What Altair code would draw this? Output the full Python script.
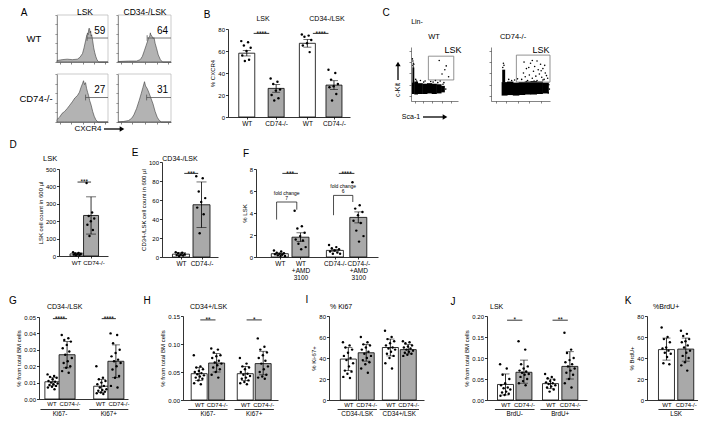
import json
import altair as alt
import pandas as pd

FONT = "Liberation Sans"
W, H = 690, 409
M = 8
GRAY = "#a9a9a9"


def P(v):
    return v - M


# ======================= DATA =======================
# A: CXCR4 histograms (x: % of axis, y: % of axis height)
A_x_lsk_wt = [0, 10, 20, 30, 40, 45, 50, 53, 56, 58, 60, 61, 62, 63, 64, 65, 66, 67, 68, 70, 72, 74, 76, 78, 80, 82, 100]
A_y_lsk_wt = [3, 5, 6, 5, 6, 10, 18, 30, 45, 55, 62, 58, 68, 72, 70, 62, 66, 55, 58, 45, 30, 20, 12, 6, 2, 0, 0]
A_x_lsk_ko = [0, 5, 10, 15, 20, 25, 30, 35, 40, 44, 47, 50, 52, 54, 56, 58, 60, 62, 64, 67, 70, 73, 76, 80, 100]
A_y_lsk_ko = [5, 10, 18, 22, 28, 35, 42, 50, 55, 62, 72, 80, 86, 78, 82, 70, 62, 55, 45, 35, 22, 12, 5, 0, 0]
A_x_cd34_wt = [0, 20, 35, 42, 46, 50, 53, 56, 58, 60, 61, 62, 64, 66, 68, 70, 73, 76, 80, 84, 100]
A_y_cd34_wt = [1, 2, 2, 5, 12, 25, 35, 45, 52, 55, 62, 58, 55, 50, 52, 40, 28, 15, 5, 0, 0]
A_x_cd34_ko = [0, 10, 20, 26, 30, 35, 40, 44, 47, 50, 52, 55, 58, 62, 66, 70, 74, 78, 82, 100]
A_y_cd34_ko = [0, 1, 3, 8, 15, 28, 45, 60, 72, 84, 75, 70, 62, 50, 38, 22, 10, 3, 0, 0]
A_gate_start = [59, 56, 55, 54]
A_gate_pct = ["59", "27", "64", "31"]

# C: Lin- flow plots (Sca-1 vs c-Kit, % of axis): dense regions and sparse events
C_wt_rect_x0 = [2, 7, 14, 24, 34, 44, 54, 64, 3]
C_wt_rect_x1 = [8, 15, 25, 35, 45, 55, 65, 72, 7]
C_wt_rect_y0 = [13, 12, 13, 13, 14, 13, 14, 16, 33]
C_wt_rect_y1 = [34, 36, 33, 32, 33, 32, 31, 28, 62]
C_wt_dot_x = [4, 5, 4, 6, 10, 20, 30, 42, 52, 62, 70, 60, 75, 66, 80, 72, 12, 27, 47, 57, 68, 74, 3, 5]
C_wt_dot_y = [66, 70, 74, 68, 40, 38, 37, 36, 38, 37, 34, 75, 65, 50, 45, 58, 37, 35, 35, 34, 31, 22, 78, 63]
C_ko_rect_x0 = [18, 27, 37, 47, 57, 67, 77, 87, 19]
C_ko_rect_x1 = [28, 38, 48, 58, 68, 78, 88, 98, 24]
C_ko_rect_y0 = [10, 11, 10, 11, 12, 12, 13, 14, 34]
C_ko_rect_y1 = [35, 36, 34, 35, 36, 37, 36, 34, 58]
C_ko_dot_x = [52, 55, 58, 60, 62, 65, 67, 70, 72, 74, 76, 78, 80, 82, 84, 86, 88, 90, 92, 94, 96, 56, 64, 70, 78,
              85, 91, 60, 73, 88, 30, 35, 40, 45, 20, 22, 21, 98, 99, 97]
C_ko_dot_y = [40, 52, 45, 60, 38, 48, 70, 42, 55, 64, 46, 38, 58, 50, 68, 44, 60, 40, 52, 47, 42, 72, 62, 75, 74,
              56, 66, 36, 37, 39, 40, 38, 39, 41, 62, 66, 70, 30, 22, 15]

# B: % CXCR4 (mean +/- SEM)
B_labels = ["WT", "CD74-/-", "WT", "CD74-/-"]
B_geno = ["WT", "CD74-/-", "WT", "CD74-/-"]
B_mean = [58, 26, 67, 29]
B_lo = [55.5, 22.5, 63.5, 25]
B_hi = [60.5, 29.5, 70.5, 33]
B_dots = [[69, 68, 65, 63, 60, 56, 52, 51], [35, 32, 30, 25, 24, 20, 17, 15],
          [75, 74, 73, 70, 67, 65, 59], [43, 40, 34, 30, 28, 27, 21, 15]]

# D: LSK cell count in 600 ul
D_labels = ["WT", "CD74-/-"]
D_geno = ["WT", "CD74-/-"]
D_mean = [12, 233]
D_lo = [6, 126]
D_hi = [18, 340]
D_dots = [[22, 18, 15, 12, 10, 8, 6, 5], [420, 250, 230, 215, 200, 180, 150, 115]]

# E: CD34-/LSK cell count in 600 ul
E_labels = ["WT", "CD74-/-"]
E_geno = ["WT", "CD74-/-"]
E_mean = [3, 55]
E_lo = [1.5, 31]
E_hi = [4.5, 79]
E_dots = [[5, 4.5, 4, 3, 2.5, 2, 1.5, 1], [85, 83, 69, 62, 58, 52, 45, 25]]

# F: % LSK with AMD3100
F_labels = ["WT", ["WT", "+AMD", "3100"], "CD74-/-", ["CD74-/-", "+AMD", "3100"]]
F_treat = ["none", "AMD3100", "none", "AMD3100"]
F_mean = [0.3, 1.8, 0.6, 3.6]
F_lo = [0.24, 1.4, 0.52, 3.1]
F_hi = [0.36, 2.2, 0.68, 4.1]
F_dots = [[0.6, 0.5, 0.4, 0.35, 0.3, 0.25, 0.2, 0.15, 0.1, 0.1],
          [4.2, 2.8, 2.6, 2.2, 1.9, 1.6, 1.5, 1.2, 0.9, 0.7],
          [1.1, 0.9, 0.8, 0.7, 0.6, 0.5, 0.4, 0.3, 0.3],
          [6.8, 4.7, 4.4, 4.1, 3.8, 3.3, 3.1, 2.4, 1.9, 1.4]]
F_fold = ["7", "6"]
F_bracket_wt = [3.4, 5.0, 4.3]
F_bracket_ko = [3.8, 5.6, 5.0]

# G: CD34-/LSK, % from total BM cells
G_labels = ["WT", "CD74-/-", "WT", "CD74-/-"]
G_geno = ["WT", "CD74-/-", "WT", "CD74-/-"]
G_groups = ["Ki67-", "Ki67+"]
G_mean = [0.0105, 0.027, 0.0078, 0.023]
G_lo = [0.008, 0.019, 0.004, 0.013]
G_hi = [0.013, 0.035, 0.012, 0.033]
G_dots = [[0.015, 0.014, 0.0135, 0.013, 0.012, 0.011, 0.0105, 0.010, 0.0095, 0.009, 0.0085, 0.008, 0.0075, 0.007, 0.006],
          [0.039, 0.037, 0.036, 0.035, 0.033, 0.031, 0.029, 0.027, 0.025, 0.023, 0.022, 0.020, 0.019, 0.017, 0.016],
          [0.020, 0.013, 0.012, 0.011, 0.010, 0.009, 0.008, 0.007, 0.006, 0.0055, 0.005, 0.0045, 0.004, 0.0035, 0.003],
          [0.040, 0.039, 0.034, 0.030, 0.028, 0.026, 0.024, 0.023, 0.022, 0.020, 0.018, 0.014, 0.013, 0.008, 0.007]]

# H: CD34+/LSK, % from total BM cells
H_labels = G_labels
H_geno = G_geno
H_groups = ["Ki67-", "Ki67+"]
H_mean = [0.047, 0.066, 0.047, 0.065]
H_lo = [0.035, 0.050, 0.035, 0.045]
H_hi = [0.058, 0.083, 0.060, 0.087]
H_dots = [[0.080, 0.060, 0.058, 0.055, 0.052, 0.050, 0.048, 0.046, 0.044, 0.042, 0.040, 0.038, 0.035, 0.030, 0.028],
          [0.092, 0.090, 0.085, 0.080, 0.078, 0.075, 0.070, 0.067, 0.065, 0.062, 0.058, 0.055, 0.050, 0.045, 0.040],
          [0.075, 0.065, 0.060, 0.058, 0.055, 0.050, 0.047, 0.045, 0.043, 0.040, 0.038, 0.035, 0.032, 0.030, 0.028],
          [0.110, 0.095, 0.090, 0.085, 0.080, 0.075, 0.070, 0.065, 0.060, 0.055, 0.050, 0.045, 0.042, 0.040, 0.038]]

# I: % Ki67
I_labels = G_labels
I_geno = G_geno
I_groups = ["CD34-/LSK", "CD34+/LSK"]
I_mean = [39, 45, 50, 48]
I_lo = [28, 37, 42, 44]
I_hi = [50, 53, 58, 53]
I_dots = [[55, 52, 50, 48, 45, 42, 40, 38, 35, 32, 28, 27, 25, 22, 21],
          [60, 55, 53, 52, 50, 48, 46, 44, 42, 40, 38, 36, 34, 30, 26],
          [66, 60, 58, 56, 54, 52, 50, 49, 48, 46, 44, 42, 40, 35, 30],
          [56, 55, 54, 52, 51, 50, 49, 48, 47, 46, 45, 44, 43, 42]]

# J: LSK, % from total BM cells, BrdU
J_labels = G_labels
J_geno = G_geno
J_groups = ["BrdU-", "BrdU+"]
J_mean = [0.037, 0.066, 0.039, 0.080]
J_lo = [0.012, 0.040, 0.027, 0.050]
J_hi = [0.062, 0.095, 0.050, 0.115]
J_dots = [[0.085, 0.075, 0.060, 0.050, 0.040, 0.035, 0.030, 0.028, 0.025, 0.020, 0.018, 0.015, 0.012, 0.010],
          [0.140, 0.120, 0.085, 0.080, 0.075, 0.070, 0.068, 0.065, 0.062, 0.060, 0.055, 0.050, 0.045, 0.040, 0.035],
          [0.062, 0.055, 0.052, 0.048, 0.045, 0.042, 0.040, 0.038, 0.035, 0.032, 0.030, 0.025, 0.020],
          [0.160, 0.120, 0.112, 0.100, 0.095, 0.090, 0.085, 0.080, 0.075, 0.070, 0.065, 0.060, 0.050, 0.040, 0.030]]

# K: % BrdU+
K_labels = ["WT", "CD74-/-"]
K_geno = ["WT", "CD74-/-"]
K_groups = ["LSK"]
K_mean = [48, 48.5]
K_lo = [38, 37]
K_hi = [59, 59]
K_dots = [[69, 60, 58, 55, 50, 49, 47, 45, 44, 41, 35, 34],
          [66, 63, 61, 58, 56, 55, 52, 50, 47, 45, 42, 40, 36, 33, 28]]

# ======================= HELPERS =======================
ONE = alt.Data(values=[{"a": 0}])


def label(s, x, y, size=7, align="center", angle=0, baseline="middle"):
    return alt.Chart(ONE).mark_text(
        text=s, fontSize=size, font=FONT, align=align, baseline=baseline, angle=angle, color="black"
    ).encode(x=alt.value(P(x)), y=alt.value(P(y)))


def arrow_h(x0, x1, y):
    line = alt.Chart(ONE).mark_rule(strokeWidth=1.3, color="black").encode(
        x=alt.value(P(x0)), x2=alt.value(P(x1 - 3)), y=alt.value(P(y)))
    head = alt.Chart(ONE).mark_point(shape="triangle-right", filled=True, size=28, color="black", opacity=1).encode(
        x=alt.value(P(x1 - 2)), y=alt.value(P(y)))
    return [line, head]


def arrow_v(x, y0, y1):
    line = alt.Chart(ONE).mark_rule(strokeWidth=1.3, color="black").encode(
        x=alt.value(P(x)), y=alt.value(P(y0)), y2=alt.value(P(y1 + 3)))
    head = alt.Chart(ONE).mark_point(shape="triangle-up", filled=True, size=28, color="black", opacity=1).encode(
        x=alt.value(P(x)), y=alt.value(P(y1 + 2)))
    return [line, head]


def small_axes(box, xticks, yticks):
    x0, x1, yb, yt = box
    xs = alt.Scale(domain=[0, 100], range=[P(x0), P(x1)], nice=False, zero=False)
    ys = alt.Scale(domain=[0, 100], range=[P(yb), P(yt)], nice=False, zero=False)
    common = dict(labels=False, title=None, tickSize=2, grid=False, domainColor="#333", tickColor="#333",
                  domainWidth=0.6, tickWidth=0.6)
    xa = alt.Axis(orient="bottom", offset=P(yb) - H, values=xticks, **common)
    ya = alt.Axis(orient="left", offset=-P(x0), values=yticks, **common)

    def XQ(f):
        return alt.X(f, scale=xs, axis=xa)

    def YQ(f):
        return alt.Y(f, scale=ys, axis=ya)
    return XQ, YQ


def hist_panel(xv, yv, box, gate_x, pct):
    XQ, YQ = small_axes(box, [5, 27, 50, 73, 95], [0, 20, 40, 60, 80, 100])
    frame = alt.Chart(pd.DataFrame({"x": [0], "x2": [100], "y": [0], "y2": [100]})).mark_rect(
        fillOpacity=0, stroke="#b5b5b5", strokeWidth=0.7).encode(
        x=XQ("x:Q"), x2="x2:Q", y=YQ("y:Q"), y2="y2:Q")
    area = alt.Chart(pd.DataFrame({"x": xv, "y": yv})).mark_area(
        fill="#b3b3b3", stroke="#3a3a3a", strokeWidth=0.6, interpolate="linear").encode(
        x=XQ("x:Q"), y=YQ("y:Q"))
    gdf = pd.DataFrame({"x": [gate_x], "x2": [100], "y": [51], "ya": [45], "yb": [57], "tx": [84], "ty": [66],
                        "t": [pct]})
    gate = alt.Chart(gdf).mark_rule(strokeWidth=0.8, color="#555").encode(
        x=XQ("x:Q"), x2="x2:Q", y=YQ("y:Q"))
    gtick = alt.Chart(gdf).mark_rule(strokeWidth=0.8, color="#555").encode(
        x=XQ("x:Q"), y=YQ("ya:Q"), y2="yb:Q")
    num = alt.Chart(gdf).mark_text(fontSize=10, font=FONT, color="black").encode(
        x=XQ("tx:Q"), y=YQ("ty:Q"), text="t:N")
    return alt.layer(frame, area, gate, gtick, num)


def flow_panel(box, rx0, rx1, ry0, ry1, dx, dy, gate):
    XQ, YQ = small_axes(box, [8, 25, 45, 65, 85], [10, 30, 52, 72, 92])
    rdf = pd.DataFrame({"x": rx0, "x2": rx1, "y": ry0, "y2": ry1})
    rects = alt.Chart(rdf).mark_rect(color="black").encode(
        x=XQ("x:Q"), x2="x2:Q", y=YQ("y:Q"), y2="y2:Q")
    dots = alt.Chart(pd.DataFrame({"x": dx, "y": dy})).mark_circle(size=2.5, color="black", opacity=1).encode(
        x=XQ("x:Q"), y=YQ("y:Q"))
    gdf = pd.DataFrame({"x": [gate[0]], "x2": [gate[1]], "y": [gate[2]], "y2": [gate[3]]})
    g = alt.Chart(gdf).mark_rect(fillOpacity=0, stroke="#777", strokeWidth=0.8).encode(
        x=XQ("x:Q"), x2="x2:Q", y=YQ("y:Q"), y2="y2:Q")
    return alt.layer(rects, dots, g)


def jitter(n, width):
    return [((i * 0.618034) % 1 - 0.5) * width for i in range(n)]


def bar_panel(labels, keys, key_dom, key_rng, means, lo, hi, dots, lay, sig=(), groups=(), cap=8,
              brackets=()):
    ax, xend, y0, ytop = lay["ax"], lay["xend"], lay["y0"], lay["ytop"]
    slots = lay["slots"]
    xs = alt.Scale(domain=[0, xend - ax], range=[P(ax), P(xend)], nice=False, zero=False)
    ys = alt.Scale(domain=[0, lay["ymax"]], range=[P(y0), P(ytop)], nice=False, zero=False)
    expr = ""
    for s, lbl in zip(slots, labels):
        expr += f"datum.value == {s} ? {json.dumps(lbl)} : "
    expr += "''"
    xkw = dict(orient="bottom", offset=P(y0) - H, values=slots, labelExpr=expr, title=None,
               tickSize=lay.get("xtick", 2), labelFontSize=lay.get("xfs", 6.5), labelPadding=1,
               labelOverlap=False, labelFlush=False, domainWidth=0.8, tickWidth=0.8, grid=False,
               labelLineHeight=7, labelBaseline="top")
    if "shift" in lay:
        right_slots = [s for s, lbl in zip(slots, labels) if lbl == "CD74-/-"]
        test = " || ".join(f"datum.value == {s}" for s in right_slots)
        xkw["labelOffset"] = {"condition": {"test": test, "value": lay["shift"][1]}, "value": lay["shift"][0]}
    xaxis = alt.Axis(**xkw)
    yaxis = alt.Axis(orient="left", offset=-P(ax), values=lay["ticks"], format=lay["fmt"], title=lay["ytitle"],
                     tickSize=2.5, labelFontSize=6, titleFontSize=6, labelPadding=1, titlePadding=2,
                     domainWidth=0.8, tickWidth=0.8, grid=False, labelFlush=False, labelOverlap=False)

    def XQ(f):
        return alt.X(f, scale=xs, axis=xaxis)

    def YQ(f):
        return alt.Y(f, scale=ys, axis=yaxis)

    bdf = pd.DataFrame({"x": slots, "m": means, "lo": lo, "hi": hi, "k": keys})
    bars = alt.Chart(bdf).mark_bar(size=lay["bw"], stroke="black", strokeWidth=0.8, orient="vertical").encode(
        x=XQ("x:Q"), y=YQ("m:Q"),
        fill=alt.Fill("k:N", scale=alt.Scale(domain=key_dom, range=key_rng), legend=None))
    err = alt.Chart(bdf).mark_rule(strokeWidth=0.8, color="black").encode(x=XQ("x:Q"), y=YQ("lo:Q"), y2="hi:Q")
    cap_lo = alt.Chart(bdf).mark_tick(orient="horizontal", size=cap, thickness=0.8, color="black").encode(
        x=XQ("x:Q"), y=YQ("lo:Q"))
    cap_hi = alt.Chart(bdf).mark_tick(orient="horizontal", size=cap, thickness=0.8, color="black").encode(
        x=XQ("x:Q"), y=YQ("hi:Q"))
    dx, dv = [], []
    for s, vals in zip(slots, dots):
        j = jitter(len(vals), lay["bw"] * 0.75)
        dx += [s + o for o in j]
        dv += vals
    pts = alt.Chart(pd.DataFrame({"x": dx, "v": dv})).mark_circle(size=6, color="black", opacity=1).encode(
        x=XQ("x:Q"), y=YQ("v:Q"))
    layers = [bars, err, cap_lo, cap_hi, pts]
    if sig:
        sx, sx2, sy, st, smid = [], [], [], [], []
        for i, j2, v, t in sig:
            mid = (slots[i] + slots[j2]) / 2
            half = min(slots[j2] - slots[i], 17) / 2
            sx.append(mid - half)
            sx2.append(mid + half)
            sy.append(v)
            st.append(t)
            smid.append(mid)
        sdf = pd.DataFrame({"x": sx, "x2": sx2, "y": sy, "t": st, "mid": smid})
        layers.append(alt.Chart(sdf).mark_rule(strokeWidth=0.8, color="black").encode(
            x=XQ("x:Q"), x2="x2:Q", y=YQ("y:Q")))
        layers.append(alt.Chart(sdf).mark_text(fontSize=6.5, font=FONT, baseline="alphabetic", dy=2.2,
                                               color="black").encode(
            x=XQ("mid:Q"), y=YQ("y:Q"), text="t:N"))
    if groups:
        gx, gx2, gm, gt = [], [], [], []
        for k, name in enumerate(groups):
            a, b = slots[2 * k], slots[2 * k + 1]
            mid = (a + b) / 2
            gx.append(mid - 22)
            gx2.append(mid + 22)
            gm.append(mid)
            gt.append(name)
        gdf = pd.DataFrame({"x": gx, "x2": gx2, "mid": gm, "t": gt})
        layers.append(alt.Chart(gdf).mark_rule(strokeWidth=0.8, color="black").encode(
            x=XQ("x:Q"), x2="x2:Q", y=alt.value(P(lay["gline"]))))
        layers.append(alt.Chart(gdf).mark_text(fontSize=6.3, font=FONT, baseline="middle", color="black").encode(
            x=XQ("mid:Q"), y=alt.value(P(lay["gline"] + 4.5)), text="t:N"))
    for (xl, xr, yvals, fold, ytext) in brackets:
        bdf2 = pd.DataFrame({"x": [xl, xl, xr, xr], "y": [yvals[0], yvals[1], yvals[1], yvals[2]],
                             "o": [0, 1, 2, 3]})
        layers.append(alt.Chart(bdf2).mark_line(strokeWidth=0.7, color="black").encode(
            x=XQ("x:Q"), y=YQ("y:Q"), order="o:Q"))
        tdf = pd.DataFrame({"x": [(xl + xr) / 2, (xl + xr) / 2], "y": [ytext + 0.45, ytext],
                            "t": ["fold change", fold]})
        layers.append(alt.Chart(tdf).mark_text(fontSize=5, font=FONT, color="black").encode(
            x=XQ("x:Q"), y=YQ("y:Q"), text="t:N"))
    return alt.layer(*layers)


GENO = ["WT", "CD74-/-"]
FILLS = ["white", GRAY]

# ======================= PANELS =======================
layers = []

# ---- A
layers.append(hist_panel(A_x_lsk_wt, A_y_lsk_wt, (57, 108, 62, 15), A_gate_start[0], A_gate_pct[0]))
layers.append(hist_panel(A_x_lsk_ko, A_y_lsk_ko, (57, 108, 122, 74), A_gate_start[1], A_gate_pct[1]))
layers.append(hist_panel(A_x_cd34_wt, A_y_cd34_wt, (118, 171, 62, 15), A_gate_start[2], A_gate_pct[2]))
layers.append(hist_panel(A_x_cd34_ko, A_y_cd34_ko, (118, 171, 122, 74), A_gate_start[3], A_gate_pct[3]))
layers += [label("A", 24, 13, 10), label("LSK", 85, 12, 8.5), label("CD34-/LSK", 145, 12, 8.5),
           label("WT", 34, 39, 9.5), label("CD74-/-", 36, 99, 9.5), label("CXCR4", 88, 129, 8)]
layers += arrow_h(104, 124, 129)

# ---- B
layers.append(bar_panel(B_labels, B_geno, GENO, FILLS, B_mean, B_lo, B_hi, B_dots,
                        dict(ax=228, xend=350, y0=117, ytop=29, ymax=80, slots=[15, 47, 81, 110], bw=16,
                             ticks=[0, 20, 40, 60, 80], fmt="d", ytitle="% CXCR4"),
                        sig=[(0, 1, 76, "****"), (2, 3, 76, "****")]))
layers += [label("B", 207, 15, 10), label("LSK", 263, 19, 7), label("CD34-/LSK", 327, 19, 7)]

# ---- C
layers.append(flow_panel((411, 458, 101, 47), C_wt_rect_x0, C_wt_rect_x1, C_wt_rect_y0, C_wt_rect_y1,
                         C_wt_dot_x, C_wt_dot_y, (37, 91, 39, 83)))
layers.append(flow_panel((491, 550, 101, 47), C_ko_rect_x0, C_ko_rect_x1, C_ko_rect_y0, C_ko_rect_y1,
                         C_ko_dot_x, C_ko_dot_y, (43, 100, 35, 85)))
layers += [label("C", 386, 13, 10), label("Lin-", 417, 22, 7), label("WT", 434, 37, 7.5),
           label("CD74-/-", 513, 37, 7.5), label("LSK", 453, 50, 9), label("LSK", 541, 50, 9),
           label("c-Kit", 398, 90, 7, angle=270), label("Sca-1", 411, 117, 7)]
layers += arrow_v(398, 80, 62)
layers += arrow_h(423, 447, 117)

# ---- D
layers.append(bar_panel(D_labels, D_geno, GENO, FILLS, D_mean, D_lo, D_hi, D_dots,
                        dict(ax=59, xend=108, y0=256, ytop=169, ymax=500, slots=[17, 34], bw=15,
                             ticks=[0, 100, 200, 300, 400, 500], fmt="d", ytitle="LSK cell count in 600 µl",
                             xfs=6.2, shift=(-1.5, 2.5)),
                        sig=[(0, 1, 425, "***")], cap=10))
layers += [label("D", 13, 145, 10), label("LSK", 43, 159, 7.5, align="left")]

# ---- E
layers.append(bar_panel(E_labels, E_geno, GENO, FILLS, E_mean, E_lo, E_hi, E_dots,
                        dict(ax=162, xend=218, y0=257, ytop=162, ymax=100, slots=[17, 42], bw=17,
                             ticks=[0, 20, 40, 60, 80, 100], fmt="d",
                             ytitle="CD34-/LSK cell count in 600 µl"),
                        sig=[(0, 1, 88, "***")], cap=10))
layers += [label("E", 135, 153, 10), label("CD34-/LSK", 180, 159, 7)]

# ---- F
layers.append(bar_panel(F_labels, F_treat, ["none", "AMD3100"], FILLS, F_mean, F_lo, F_hi, F_dots,
                        dict(ax=256, xend=378, y0=257, ytop=169, ymax=8, slots=[20.5, 43, 80.5, 106], bw=17,
                             ticks=[0, 2, 4, 6, 8], fmt="d", ytitle="% LSK"),
                        sig=[(0, 1, 7.6, "***"), (2, 3, 7.6, "****")],
                        brackets=[(17, 39, F_bracket_wt, F_fold[0], 5.35),
                                  (79, 100, F_bracket_ko, F_fold[1], 6.0)]))
layers += [label("F", 246, 154, 10)]

# ---- G..K (bottom row)
layers.append(bar_panel(G_labels, G_geno, GENO, FILLS, G_mean, G_lo, G_hi, G_dots,
                        dict(ax=39, xend=128, y0=399, ytop=317, ymax=0.05, slots=[10, 26, 65, 81], bw=16,
                             ticks=[0, 0.01, 0.02, 0.03, 0.04, 0.05], fmt=".2f", ytitle="% from total BM cells",
                             xtick=0, xfs=6, gline=409.5, shift=(-1.5, 2.5)),
                        sig=[(0, 1, 0.049, "****"), (2, 3, 0.049, "****")], groups=G_groups))
layers += [label("G", 13, 301, 10), label("CD34-/LSK", 47, 307, 7, align="left")]

layers.append(bar_panel(H_labels, H_geno, GENO, FILLS, H_mean, H_lo, H_hi, H_dots,
                        dict(ax=183, xend=278, y0=400, ytop=316, ymax=0.15, slots=[12.5, 32, 64, 84], bw=16,
                             ticks=[0, 0.05, 0.10, 0.15], fmt=".2f", ytitle="% from total BM cells", xtick=0,
                             xfs=6, gline=409.5),
                        sig=[(0, 1, 0.143, "**"), (2, 3, 0.143, "*")], groups=H_groups))
layers += [label("H", 147, 301, 10), label("CD34+/LSK", 190, 307, 7, align="left")]

layers.append(bar_panel(I_labels, I_geno, GENO, FILLS, I_mean, I_lo, I_hi, I_dots,
                        dict(ax=329, xend=424, y0=400, ytop=316, ymax=80, slots=[16, 36, 63, 83], bw=16,
                             ticks=[0, 20, 40, 60, 80], fmt="d", ytitle="% Ki-67+", xtick=0, xfs=6,
                             gline=409.5),
                        groups=I_groups))
layers += [label("I", 307, 300, 10), label("% Ki67", 330, 307, 7, align="left")]

layers.append(bar_panel(J_labels, J_geno, GENO, FILLS, J_mean, J_lo, J_hi, J_dots,
                        dict(ax=487, xend=587, y0=400, ytop=316, ymax=0.20, slots=[15, 35.5, 65, 86.5], bw=16,
                             ticks=[0, 0.05, 0.10, 0.15, 0.20], fmt=".2f", ytitle="% from total BM cells",
                             xtick=0, xfs=6, gline=409.5),
                        sig=[(0, 1, 0.19, "*"), (2, 3, 0.19, "**")], groups=J_groups))
layers += [label("J", 453, 302, 10), label("LSK", 490, 307, 7, align="left")]

layers.append(bar_panel(K_labels, K_geno, GENO, FILLS, K_mean, K_lo, K_hi, K_dots,
                        dict(ax=647, xend=698, y0=400, ytop=316, ymax=80, slots=[18, 42], bw=16,
                             ticks=[0, 20, 40, 60, 80], fmt="d", ytitle="% BrdU+", xtick=0, xfs=6,
                             gline=409.5),
                        groups=K_groups))
layers += [label("K", 628, 301, 10), label("%BrdU+", 653, 307, 7, align="left")]

chart = alt.layer(*layers).resolve_scale(
    x="independent", y="independent", fill="independent"
).properties(
    width=W, height=H, padding=0, autosize=alt.AutoSizeParams(type="none")
).configure_view(strokeWidth=0).configure_axis(
    labelFont=FONT, titleFont=FONT, titleFontWeight="normal", labelColor="black", titleColor="black",
    domainColor="black", tickColor="black"
)

chart.save("out.html", embed_options={"renderer": "svg", "actions": False})
